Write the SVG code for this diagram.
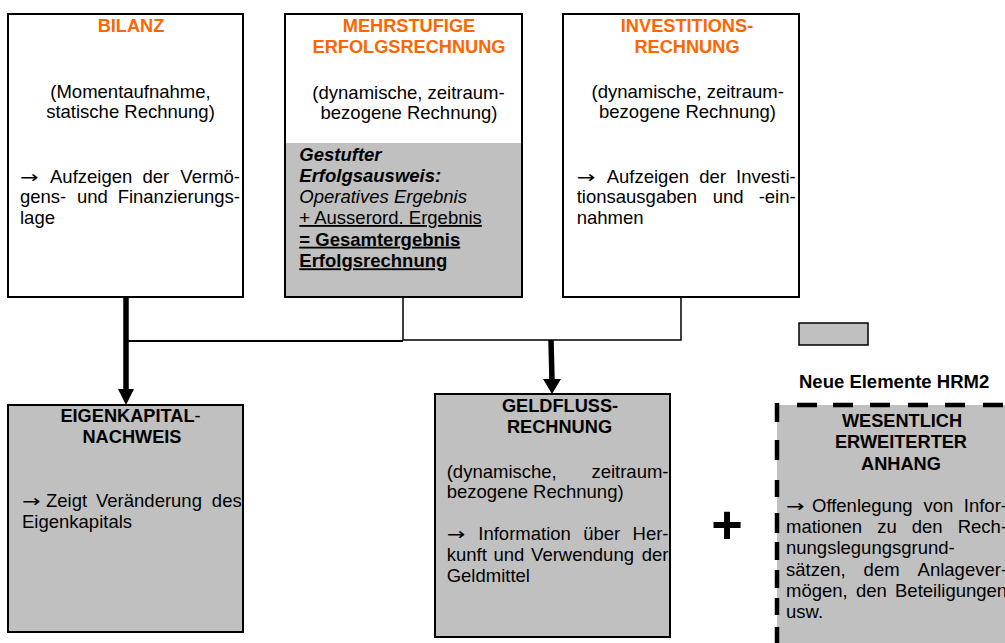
<svg xmlns="http://www.w3.org/2000/svg" width="1005" height="643" viewBox="0 0 1005 643">
<style>
.box{stroke:#000;stroke-width:2}
.w{fill:#fff}
.g{fill:#c0c0c0}
text{font-family:"Liberation Sans",Arial,Helvetica,sans-serif;font-size:18.5px;fill:#000}
.ar{font-family:"DejaVu Sans","Liberation Sans",sans-serif;font-size:17px}
.h{font-weight:bold;font-size:18.2px}
.o{fill:#ff6600}
.c{text-anchor:middle}
.e{text-anchor:end}
.bi{font-weight:bold;font-style:italic}
.i{font-style:italic}
.u{text-decoration:underline}
.b{font-weight:bold}
.thin{fill:none;stroke:#000;stroke-width:1.5}
.thick{fill:none;stroke:#000;stroke-width:5.5}
.dash{fill:none;stroke:#000;stroke-width:4.5}
</style>
<rect width="1005" height="643" fill="#fff"/>

<g id="connectors">
  <path class="thin" d="M403 297 V340 H681 V297"/>
  <path class="thin" d="M125 341 H403" style="stroke-width:2"/>
  <path class="thick" d="M126 297 V391"/>
  <polygon points="118,389 134,389 126,405" fill="#000"/>
  <path class="thick" d="M551 340 L552 381"/>
  <polygon points="543,379 561,379 552,394" fill="#000"/>
</g>

<g id="bilanz">
  <rect class="box w" x="8" y="14" width="235" height="283"/>
  <text class="h o c" x="131" y="32.3">BILANZ</text>
  <text class="c" x="130.5" y="97.5">(Momentaufnahme,</text>
  <text class="c" x="130.5" y="118">statische Rechnung)</text>
  <text class="ar" transform="translate(20 182.7) scale(1.3 1)">→</text>
  <text x="50" y="182.7">Aufzeigen</text>
  <text x="142.5" y="182.7">der</text>
  <text class="e" x="240" y="182.7">Vermö-</text>
  <text x="20" y="203.3">gens-</text>
  <text x="77" y="203.3">und</text>
  <text class="e" x="240" y="203.3">Finanzierungs-</text>
  <text x="20" y="224">lage</text>
</g>

<g id="erfolgsrechnung">
  <rect class="w" x="285" y="14" width="237" height="283"/>
  <rect class="g" x="285" y="143" width="237" height="154"/>
  <rect class="box" fill="none" x="285" y="14" width="237" height="283"/>
  <text class="h o c" x="409" y="31.7">MEHRSTUFIGE</text>
  <text class="h o c" x="409" y="53.3">ERFOLGSRECHNUNG</text>
  <text class="c" x="408.5" y="98.5">(dynamische, zeitraum-</text>
  <text class="c" x="409" y="118.5">bezogene Rechnung)</text>
  <text class="bi" x="299.3" y="160.7">Gestufter</text>
  <text class="bi" x="299.3" y="181.7">Erfolgsausweis:</text>
  <text class="i" x="299.3" y="202.7">Operatives Ergebnis</text>
  <text class="u" x="299.3" y="224">+ Ausserord. Ergebnis</text>
  <text class="b u" x="299.3" y="245.7">= Gesamtergebnis</text>
  <text class="b u" x="299.3" y="267.3">Erfolgsrechnung</text>
</g>

<g id="investitionsrechnung">
  <rect class="box w" x="563" y="14" width="236" height="283"/>
  <text class="h o c" x="687" y="32">INVESTITIONS-</text>
  <text class="h o c" x="687" y="53.3">RECHNUNG</text>
  <text class="c" x="687.7" y="98">(dynamische, zeitraum-</text>
  <text class="c" x="687.5" y="118.3">bezogene Rechnung)</text>
  <text class="ar" transform="translate(576.7 182.7) scale(1.3 1)">→</text>
  <text x="606.7" y="182.7">Aufzeigen</text>
  <text x="699.2" y="182.7">der</text>
  <text class="e" x="795.7" y="182.7">Investi-</text>
  <text x="576.7" y="203.3">tionsausgaben</text>
  <text x="712.7" y="203.3">und</text>
  <text class="e" x="795.7" y="203.3">-ein-</text>
  <text x="576.7" y="224">nahmen</text>
</g>

<g id="eigenkapitalnachweis">
  <rect class="box g" x="8" y="405" width="235" height="227"/>
  <text class="h c" x="130.5" y="421.7">EIGENKAPITAL<tspan font-weight="normal">-</tspan></text>
  <text class="h c" x="132" y="443.3">NACHWEIS</text>
  <text class="ar" transform="translate(22 506.7) scale(1.3 1)">→</text>
  <text x="46" y="506.7">Zeigt</text>
  <text x="96" y="506.7">Veränderung</text>
  <text class="e" x="241.7" y="506.7">des</text>
  <text x="22" y="527.7">Eigenkapitals</text>
</g>

<g id="geldflussrechnung">
  <rect class="box g" x="435" y="394" width="235" height="243"/>
  <text class="h c" x="560" y="411.7">GELDFLUSS-</text>
  <text class="h c" x="559.5" y="433.3">RECHNUNG</text>
  <text x="446.7" y="477.7">(dynamische,</text>
  <text class="e" x="668.5" y="477.7">zeitraum-</text>
  <text x="446.7" y="497.7">bezogene Rechnung)</text>
  <text class="ar" transform="translate(446.7 540) scale(1.3 1)">→</text>
  <text x="478.3" y="540">Information</text>
  <text x="583.2" y="540">über</text>
  <text class="e" x="668.5" y="540">Her-</text>
  <text x="446.7" y="561">kunft</text>
  <text x="493.5" y="561">und</text>
  <text x="531.1" y="561">Verwendung</text>
  <text class="e" x="668.5" y="561">der</text>
  <text x="446.7" y="581.7">Geldmittel</text>
</g>

<g id="plus">
  <text class="b c" x="727" y="543" style="font-size:54px">+</text>
</g>

<g id="legende">
  <rect class="g" x="799" y="323" width="69" height="22" stroke="#000" stroke-width="1.5"/>
  <text class="b" x="799" y="388">Neue Elemente HRM2</text>
</g>

<g id="anhang">
  <rect class="g" x="777" y="405" width="240" height="250"/>
  <path class="dash" d="M797 405 H817 M833 405 H853 M870 405 H890 M908 405 H928 M945 405 H965 M983 405 H1003"/>
  <path class="dash" d="M777 403 V422 M777 440 V460 M777 480 V497 M777 513 V533 M777 542 V560 M777 570 V588 M777 598 V615 M777 627 V643"/>
  <text class="h c" x="902" y="427">WESENTLICH</text>
  <text class="h c" x="901" y="448">ERWEITERTER</text>
  <text class="h c" x="901" y="470">ANHANG</text>
  <text class="ar" transform="translate(786 512.3) scale(1.3 1)">→</text>
  <text x="812" y="512.3">Offenlegung</text>
  <text x="923.5" y="512.3">von</text>
  <text x="963.8" y="512.3">Infor-</text>
  <text x="786" y="533.3">mationen</text>
  <text x="877.2" y="533.3">zu</text>
  <text x="911.8" y="533.3">den</text>
  <text x="957.7" y="533.3">Rech-</text>
  <text x="786" y="554.3">nungslegungsgrund-</text>
  <text x="786" y="575.5">sätzen,</text>
  <text x="863.6" y="575.5">dem</text>
  <text x="917.6" y="575.5">Anlagever-</text>
  <text x="786" y="596.7">mögen,</text>
  <text x="855.9" y="596.7">den</text>
  <text x="895" y="596.7">Beteiligungen</text>
  <text x="786" y="618">usw.</text>
</g>
</svg>
